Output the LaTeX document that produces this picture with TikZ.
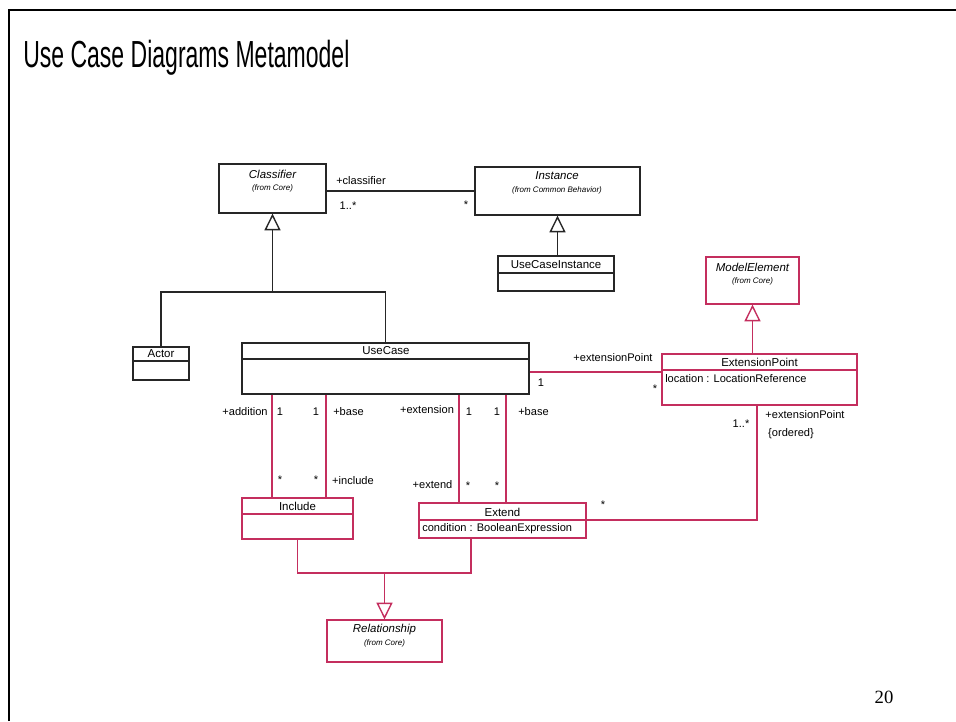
\documentclass[tikz,border=0pt]{standalone}
\usepackage{fontspec}
\usepackage{graphicx}
\setmainfont{Liberation Sans}
\newfontfamily\pagefont{Liberation Serif}
\usetikzlibrary{arrows.meta,fit}

\definecolor{umlred}{RGB}{196,46,94}
\definecolor{umlink}{RGB}{38,38,38}

\begin{document}
\begin{tikzpicture}[x=0.75pt,y=-0.75pt,
  blackbox/.style={draw=umlink, line width=0.95pt, inner sep=0pt},
  redbox/.style={draw=umlred, line width=0.95pt, inner sep=0pt},
  blackline/.style={draw=umlink, line width=1.05pt},
  redline/.style={draw=umlred, line width=1.05pt},
  genblack/.style={blackline, -{Triangle[open, length=12.5pt, width=12pt, fill=white]}},
  genred/.style={redline, -{Triangle[open, length=12.5pt, width=12pt, fill=white]}},
  cname/.style={inner sep=0pt, font=\fontsize{8.6}{9}\selectfont},
  cfrom/.style={inner sep=0pt, font=\fontsize{6}{7}\selectfont\itshape},
  lbl/.style={inner sep=0pt, font=\fontsize{8.3}{9}\selectfont},
]
\useasboundingbox (0,0) rectangle (956,721);

% slide frame
\draw[line width=1.9pt, black] (9,721) -- (9,10) -- (956,10);

% slide title and page number
\node[anchor=base west, inner sep=0pt] (title) at (23,67)
  {\fontsize{28.3}{34}\selectfont\scalebox{0.61}[1]{Use Case Diagrams Metamodel}};
\node[anchor=base, inner sep=0pt] (pageno) at (884,703)
  {\pagefont\fontsize{14}{16}\selectfont 20};

% ---------- classes ----------
\node[blackbox, fit={(219,164) (326,213)}] (classifier) {};
\node[cname] at (272.5,174) {\itshape Classifier};
\node[cfrom] at (272.5,188) {(from Core)};

\node[blackbox, fit={(475,167) (640,215)}] (instance) {};
\node[cname] at (557,176) {\itshape Instance};
\node[cfrom] at (557,190) {(from Common Behavior)};

\node[blackbox, fit={(498,256) (614,291)}] (ucinstance) {};
\node[cname] at (556,265) {UseCaseInstance};
\draw[blackline] (ucinstance.west |- 0,273) -- (ucinstance.east |- 0,273);

\node[blackbox, fit={(133,347) (189,380)}] (actor) {};
\node[cname] at (161,354) {Actor};
\draw[blackline] (actor.west |- 0,361) -- (actor.east |- 0,361);

\node[blackbox, fit={(242,343) (529,394)}] (usecase) {};
\node[cname] at (386,351) {UseCase};
\draw[blackline] (usecase.west |- 0,359) -- (usecase.east |- 0,359);

\node[redbox, fit={(706,257) (799,304)}] (modelelement) {};
\node[cname] at (752.5,267) {\itshape ModelElement};
\node[cfrom] at (752.5,281) {(from Core)};

\node[redbox, fit={(662,354) (857,405)}] (extpoint) {};
\node[cname] at (759.5,362) {ExtensionPoint};
\draw[redline] (extpoint.west |- 0,370) -- (extpoint.east |- 0,370);
\node[lbl, anchor=west] at (665,379) {location : LocationReference};

\node[redbox, fit={(242,498) (353,539)}] (include) {};
\node[cname] at (297.5,506) {Include};
\draw[redline] (include.west |- 0,514) -- (include.east |- 0,514);

\node[redbox, fit={(419,503) (586,538)}] (extend) {};
\node[cname] at (502.5,512) {Extend};
\draw[redline] (extend.west |- 0,520) -- (extend.east |- 0,520);
\node[lbl, anchor=west] at (422,529) {condition : BooleanExpression};

\node[redbox, fit={(327,620) (442,662)}] (relationship) {};
\node[cname] at (384.5,630) {\itshape Relationship};
\node[cfrom] at (384.5,643) {(from Core)};

% ---------- helper coordinates ----------
\coordinate (assocA) at (0,191);
\coordinate (genbar) at (0,292);
\coordinate (assocB) at (0,372);
\coordinate (xaddition) at (272,0);
\coordinate (xincbase) at (326,0);
\coordinate (xextension) at (459,0);
\coordinate (xextbase) at (506,0);
\coordinate (xepdown) at (757,0);
\coordinate (ylink) at (0,520);
\coordinate (relbar) at (0,573);
\coordinate (xextgen) at (471,0);

% ---------- black connectors ----------
\draw[blackline] (classifier.east |- assocA) -- (instance.west |- assocA);
\draw[genblack] (instance.south |- ucinstance.north) -- (instance.south);
\draw[blackline] (actor.north) |- (usecase.north |- genbar) -- (usecase.north);
\draw[genblack] (classifier.south |- genbar) -- (classifier.south);

% ---------- red connectors ----------
\draw[genred] (extpoint.north -| modelelement.south) -- (modelelement.south);
\draw[redline] (usecase.east |- assocB) -- (extpoint.west |- assocB);
\draw[redline] (usecase.south -| xaddition) -- (include.north -| xaddition);
\draw[redline] (usecase.south -| xincbase) -- (include.north -| xincbase);
\draw[redline] (usecase.south -| xextension) -- (extend.north -| xextension);
\draw[redline] (usecase.south -| xextbase) -- (extend.north -| xextbase);
\draw[redline] (extpoint.south -| xepdown) |- (extend.east |- ylink);
\draw[redline] (include.south) |- (relbar -| xextgen) -- (extend.south -| xextgen);
\draw[genred] (relationship.north |- relbar) -- (relationship.north);

% ---------- association end labels ----------
\node[lbl] at (361,181) {+classifier};
\node[lbl] at (348,206) {1..*};
\node[lbl] at (466,205) {*};

\node[lbl] at (613,358) {+extensionPoint};
\node[lbl] at (541,383) {1};
\node[lbl] at (655,389) {*};

\node[lbl] at (805,415) {+extensionPoint};
\node[lbl] at (741,424) {1..*};
\node[lbl] at (791,434) {\{ordered\}};
\node[lbl] at (603,505) {*};

\node[lbl] at (245,412) {+addition};
\node[lbl] at (280,412) {1};
\node[lbl] at (316,412) {1};
\node[lbl] at (348.5,412) {+base};
\node[lbl] at (427,410) {+extension};
\node[lbl] at (469,412) {1};
\node[lbl] at (497,412) {1};
\node[lbl] at (533.5,412) {+base};

\node[lbl] at (280,480) {*};
\node[lbl] at (316,480) {*};
\node[lbl] at (353,481) {+include};
\node[lbl] at (432.5,485) {+extend};
\node[lbl] at (468,486) {*};
\node[lbl] at (497,486) {*};
\end{tikzpicture}
\end{document}
